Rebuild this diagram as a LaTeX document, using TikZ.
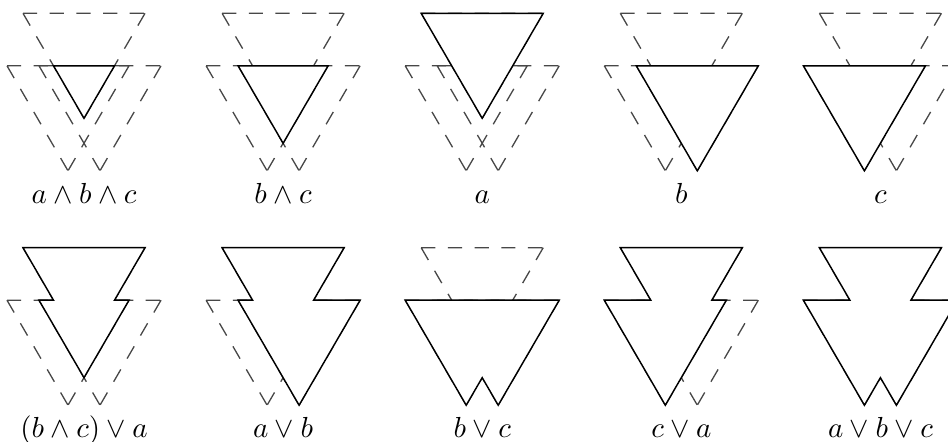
\documentclass[tikz,border=0pt]{standalone}
\usepackage{amsmath}

% three triangles a (top), b (lower right), c (lower left), drawn faint
\newcommand{\tribase}{%
  \coordinate (a1) at (-61,0);    \coordinate (a2) at (61,0);    \coordinate (a3) at (0,105);
  \coordinate (b1) at (-45,52.5); \coordinate (b2) at (77,52.5); \coordinate (b3) at (16,157.5);
  \coordinate (c1) at (-77,52.5); \coordinate (c2) at (45,52.5); \coordinate (c3) at (-16,157.5);
  \coordinate (p) at (-30.5,52.5); \coordinate (q) at (30.5,52.5); \coordinate (x) at (0,129.96);
  \draw[ghost] (a1) -- (a2) (a1) -- (a3) (a2) -- (a3);
  \draw[ghost] (b1) -- (b2) (b1) -- (b3) (b2) -- (b3);
  \draw[ghost] (c1) -- (c2) (c1) -- (c3) (c2) -- (c3);
}

\begin{document}
\begin{tikzpicture}[
        x=0.3448pt, y=-0.3448pt,
        ghost/.style={draw=black!72, line width=0.45pt, dash pattern=on 4.9pt off 4.3pt},
        region/.style={draw=black, fill=white, line width=0.5pt, line join=miter},
        lbl/.style={anchor=base}
    ]
    \useasboundingbox (0,0) rectangle (948,441);

    % top row
    \begin{scope}[shift={(84,13.3)}]
        \tribase
        \draw[region] (p) -- (q) -- (a3) -- cycle;
        \node[lbl] (abc) at (0,190) {$a \wedge b \wedge c$};
    \end{scope}
    \begin{scope}[shift={(283.1,13.3)}]
        \tribase
        \draw[region] (b1) -- (c2) -- (x) -- cycle;
        \node[lbl] (bc) at (0,190) {$b \wedge c$};
    \end{scope}
    \begin{scope}[shift={(482.2,13.3)}]
        \tribase
        \draw[region] (a1) -- (a2) -- (a3) -- cycle;
        \node[lbl] (a) at (0,190) {$a$};
    \end{scope}
    \begin{scope}[shift={(681.3,13.3)}]
        \tribase
        \draw[region] (b1) -- (b2) -- (b3) -- cycle;
        \node[lbl] (b) at (0,190) {$b$};
    \end{scope}
    \begin{scope}[shift={(880.4,13.3)}]
        \tribase
        \draw[region] (c1) -- (c2) -- (c3) -- cycle;
        \node[lbl] (c) at (0,190) {$c$};
    \end{scope}

    % bottom row
    \begin{scope}[shift={(84,247.7)}]
        \tribase
        \draw[region] (a1) -- (a2) -- (q) -- (c2) -- (x) -- (b1) -- (p) -- cycle;
        \node[lbl] (bca) at (0,190) {$(b \wedge c) \vee a$};
    \end{scope}
    \begin{scope}[shift={(283.1,247.7)}]
        \tribase
        \draw[region] (a1) -- (a2) -- (q) -- (b2) -- (b3) -- (b1) -- (p) -- cycle;
        \node[lbl] (aorb) at (0,190) {$a \vee b$};
    \end{scope}
    \begin{scope}[shift={(482.2,247.7)}]
        \tribase
        \draw[region] (c1) -- (b2) -- (b3) -- (x) -- (c3) -- cycle;
        \node[lbl] (borc) at (0,190) {$b \vee c$};
    \end{scope}
    \begin{scope}[shift={(681.3,247.7)}]
        \tribase
        \draw[region] (a1) -- (a2) -- (q) -- (c2) -- (c3) -- (c1) -- (p) -- cycle;
        \node[lbl] (cora) at (0,190) {$c \vee a$};
    \end{scope}
    \begin{scope}[shift={(880.4,247.7)}]
        \tribase
        \draw[region] (a1) -- (a2) -- (q) -- (b2) -- (b3) -- (x) -- (c3) -- (c1) -- (p) -- cycle;
        \node[lbl] (aorborc) at (0,190) {$a \vee b \vee c$};
    \end{scope}
\end{tikzpicture}
\end{document}
